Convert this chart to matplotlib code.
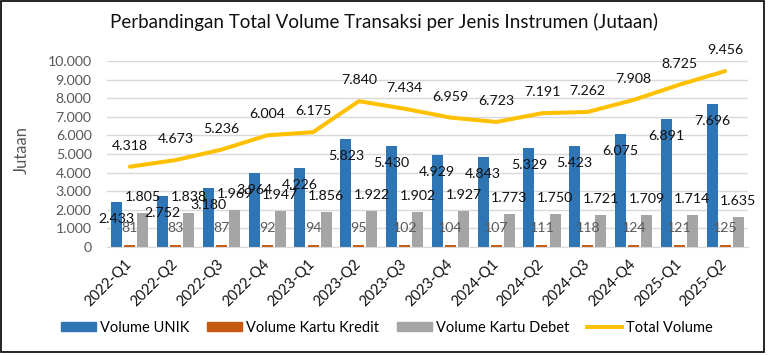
import matplotlib
matplotlib.use("Agg")
import matplotlib.pyplot as plt
import numpy as np
from matplotlib.patches import Rectangle
from matplotlib.lines import Line2D
from matplotlib.patches import Patch

categories = ["2022-Q1", "2022-Q2", "2022-Q3", "2022-Q4", "2023-Q1", "2023-Q2", "2023-Q3",
              "2023-Q4", "2024-Q1", "2024-Q2", "2024-Q3", "2024-Q4", "2025-Q1", "2025-Q2"]
vol_unik = [2433, 2752, 3180, 3964, 4226, 5823, 5430, 4929, 4843, 5329, 5423, 6075, 6891, 7696]
vol_kredit = [81, 83, 87, 92, 94, 95, 102, 104, 107, 111, 118, 124, 121, 125]
vol_debet = [1805, 1838, 1969, 1947, 1856, 1922, 1902, 1927, 1773, 1750, 1721, 1709, 1714, 1635]
vol_total = [4318, 4673, 5236, 6004, 6175, 7840, 7434, 6959, 6723, 7191, 7262, 7908, 8725, 9456]
y_ticks = [0, 1000, 2000, 3000, 4000, 5000, 6000, 7000, 8000, 9000, 10000]

plt.rcParams['font.family'] = ['Lato', 'DejaVu Sans']

BLUE = '#2E75B6'
ORANGE = '#C55A11'
GREY = '#A5A5A5'
YELLOW = '#FFC000'
TXT_GREY = '#595959'

def fmt(v):
    return f"{v:,}".replace(",", ".")

fig = plt.figure(figsize=(7.68, 3.55), dpi=100)
ax = fig.add_axes([107/768, 1-247/355, (748-107)/768, (247-61)/355])

x = np.arange(len(categories))
w = 0.24
off = 0.285
ax.bar(x - off, vol_unik, w, color=BLUE, zorder=2)
ax.bar(x, vol_kredit, w, color=ORANGE, zorder=2)
ax.bar(x + off, vol_debet, w, color=GREY, zorder=2)
ax.plot(x, vol_total, color=YELLOW, lw=2.9, zorder=3, solid_capstyle='round')

fs = 10.2
for xi, v in zip(x, vol_unik):
    ax.annotate(fmt(v), (xi - off, v), xytext=(0, -17), textcoords='offset pixels',
                ha='center', va='center', fontsize=fs, color='#111111', zorder=5)
for xi, v in zip(x, vol_kredit):
    ax.annotate(fmt(v), (xi, v), xytext=(0, 17), textcoords='offset pixels',
                ha='center', va='center', fontsize=fs, color=TXT_GREY, zorder=5)
for xi, v in zip(x, vol_debet):
    ax.annotate(fmt(v), (xi + off, v), xytext=(0, 16), textcoords='offset pixels',
                ha='center', va='center', fontsize=fs, color='#111111', zorder=5)
for xi, v in zip(x, vol_total):
    ax.annotate(fmt(v), (xi, v), xytext=(0, 21), textcoords='offset pixels',
                ha='center', va='center', fontsize=fs, color='#111111', zorder=5,
                annotation_clip=False)

ax.set_xlim(-0.5, len(categories) - 0.5)
ax.set_ylim(0, 10000)
ax.set_yticks(y_ticks)
ax.set_yticklabels([fmt(t) for t in y_ticks], fontsize=fs, color=TXT_GREY)
ax.set_xticks(x)
ax.set_xticklabels(categories, rotation=45, ha='right', va='center', rotation_mode='anchor',
                   fontsize=10.5, color='#111111')
ax.tick_params(axis='both', length=0)
ax.tick_params(axis='x', pad=11)
ax.tick_params(axis='y', pad=11)
ax.grid(axis='y', color='#D9D9D9', lw=1, zorder=0)
ax.set_axisbelow(True)
for s in ['top', 'right', 'left']:
    ax.spines[s].set_visible(False)
ax.spines['bottom'].set_color('#D9D9D9')

fig.text(0.5, 1 - 22/355, "Perbandingan Total Volume Transaksi per Jenis Instrumen (Jutaan)",
         ha='center', va='center', fontsize=13.5, color='#111111')
fig.text(22/768, 1 - 150/355, "Jutaan", rotation=90, ha='center', va='center',
         fontsize=12, color=TXT_GREY)

handles = [Patch(color=BLUE), Patch(color=ORANGE), Patch(color=GREY),
           Line2D([0], [0], color=YELLOW, lw=2.8)]
labels = ["Volume UNIK", "Volume Kartu Kredit", "Volume Kartu Debet", "Total Volume"]
fig.legend(handles, labels, loc='center', bbox_to_anchor=(387/768, 1 - 328/355), ncol=4,
           frameon=False, fontsize=10.5, handlelength=2.4, handleheight=0.55,
           handletextpad=0.3, columnspacing=1.2)

fig.add_artist(Rectangle((1/768, 1 - 352/355), 763/768, 351/355, transform=fig.transFigure,
                         fill=False, edgecolor='#000000', lw=1.2))

fig.savefig("out.png", dpi=100)
